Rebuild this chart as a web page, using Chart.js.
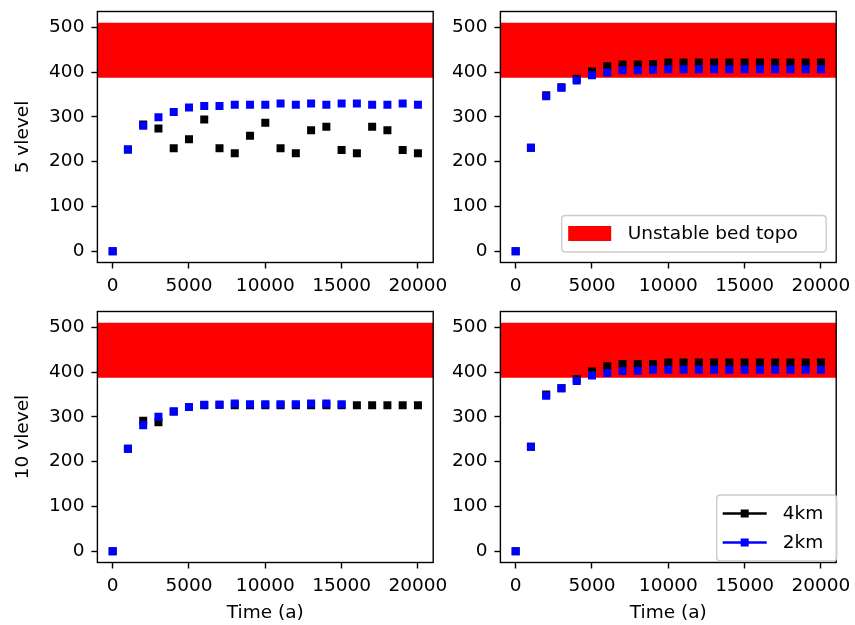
<!DOCTYPE html>
<html>
<head>
<meta charset="utf-8">
<script src="https://cdn.jsdelivr.net/npm/chart.js@4/dist/chart.umd.min.js"></script>
<style>
  html, body { margin: 0; padding: 0; background: #fff; }
  #wrap { position: relative; width: 855px; height: 625px; overflow: hidden; }
  #wrap canvas { position: absolute; left: 0; top: 0; }
</style>
</head>
<body>
<div id="wrap">
  <canvas id="p0" width="855" height="625"></canvas>
  <canvas id="p1" width="855" height="625"></canvas>
  <canvas id="p2" width="855" height="625"></canvas>
  <canvas id="p3" width="855" height="625"></canvas>
</div>
<script>
// Model time (years) at which the grounding-line depth is sampled
const years = [0, 1000, 2000, 3000, 4000, 5000, 6000, 7000, 8000, 9000, 10000,
               11000, 12000, 13000, 14000, 15000, 16000, 17000, 18000, 19000, 20000];
const xTicks = [0, 5000, 10000, 15000, 20000];
const yTicks = [0, 100, 200, 300, 400, 500];
const xRange = [-1000, 21000];
const yRange = [-25, 535];

// Depth range of the unstable bed topography
const unstableBand = [387, 510];

// 5 vertical levels, left experiment
const lv5Left4km = [0, 227, 283, 274, 230, 250, 294, 230, 219, 258, 287,
                    230, 219, 270, 278, 226, 219, 278, 270, 226, 219];
const lv5Left2km = [0, 227, 280, 299, 311, 321, 324, 324, 327, 327, 327,
                    330, 327, 330, 327, 330, 330, 327, 327, 330, 327];
// 5 vertical levels, right experiment
const lv5Right4km = [0, 231, 348, 366, 385, 401, 413, 417, 417, 418, 421,
                     421, 421, 421, 421, 421, 421, 421, 421, 421, 421];
const lv5Right2km = [0, 231, 346, 365, 381, 393, 399, 404, 404, 405, 406,
                     406, 406, 406, 406, 406, 406, 406, 406, 406, 406];
// 10 vertical levels, left experiment (2 km run ends at 15000 a)
const lv10Left4km = [0, 229, 291, 288, 312, 322, 326, 327, 326, 326, 326,
                     326, 326, 326, 326, 326, 326, 326, 326, 326, 326];
const lv10Left2km = [0, 229, 281, 300, 312, 322, 327, 327, 330, 328, 328,
                     328, 328, 330, 330, 328];
// 10 vertical levels, right experiment
const lv10Right4km = [0, 233, 350, 364, 384, 401, 413, 418, 418, 418, 421,
                      421, 421, 421, 421, 421, 421, 421, 421, 421, 421];
const lv10Right2km = [0, 233, 347, 364, 380, 392, 398, 402, 403, 405, 405,
                      405, 405, 405, 405, 405, 405, 405, 405, 405, 405];

const FONT = '"DejaVu Sans", "Liberation Sans", sans-serif';
const FS = 18.5;
const W = 855, H = 625;

const toPoints = vals => vals.map((v, i) => ({ x: years[i], y: v }));

// Frame around the plotting area plus in-axes legends
const framePlugin = {
  id: 'frame',
  afterDraw(chart) {
    const { ctx, chartArea: a } = chart;
    ctx.save();
    ctx.strokeStyle = '#000';
    ctx.lineWidth = 1.4;
    ctx.strokeRect(a.left, a.top, a.right - a.left, a.bottom - a.top);

    const lg = chart.options.plugins.frame.legend;
    if (lg) drawLegend(chart, lg);
    ctx.restore();
  }
};

function roundRect(ctx, x, y, w, h, r) {
  ctx.beginPath();
  ctx.moveTo(x + r, y);
  ctx.lineTo(x + w - r, y);
  ctx.quadraticCurveTo(x + w, y, x + w, y + r);
  ctx.lineTo(x + w, y + h - r);
  ctx.quadraticCurveTo(x + w, y + h, x + w - r, y + h);
  ctx.lineTo(x + r, y + h);
  ctx.quadraticCurveTo(x, y + h, x, y + h - r);
  ctx.lineTo(x, y + r);
  ctx.quadraticCurveTo(x, y, x + r, y);
  ctx.closePath();
}

function drawLegend(chart, lg) {
  const ctx = chart.ctx;
  const a = chart.chartArea;
  const bx = a.right + lg.dx, by = a.bottom + lg.dy;
  ctx.save();
  roundRect(ctx, bx, by, lg.w, lg.h, 3.7);
  ctx.fillStyle = 'rgba(255,255,255,0.8)';
  ctx.fill();
  ctx.strokeStyle = '#cccccc';
  ctx.lineWidth = 1.4;
  ctx.stroke();
  ctx.font = FS + 'px ' + FONT;
  ctx.textBaseline = 'middle';
  ctx.fillStyle = '#000';
  lg.items.forEach((it, k) => {
    const ds = chart.data.datasets[it.dataset];
    const cy = by + lg.firstRow + k * lg.rowStep;
    const hx = bx + lg.handleX;
    if (it.kind === 'patch') {
      ctx.fillStyle = ds.backgroundColor;
      ctx.fillRect(hx, cy - 7.5, lg.handleW, 15);
    } else {
      ctx.strokeStyle = ds.pointBackgroundColor;
      ctx.lineWidth = 2.7;
      ctx.beginPath();
      ctx.moveTo(hx, cy);
      ctx.lineTo(hx + lg.handleW, cy);
      ctx.stroke();
      ctx.fillStyle = ds.pointBackgroundColor;
      ctx.fillRect(hx + lg.handleW / 2 - 4, cy - 4, 8, 8);
    }
    ctx.fillStyle = '#000';
    ctx.fillText(ds.label, bx + lg.textX, cy + 1);
  });
  ctx.restore();
}

function makePanel(id, area, s4, s2, yTitle, xTitle, legend) {
  const yAxisW = area.left - area.padLeft;
  const xAxisH = xTitle ? (H - area.bottom) : 40;
  const bandColor = '#ff0000';
  const datasets = [
    {
      label: 'Unstable bed topo',
      data: [{ x: xRange[0], y: unstableBand[1] }, { x: xRange[1], y: unstableBand[1] }],
      showLine: true,
      borderWidth: 0,
      borderColor: 'rgba(0,0,0,0)',
      backgroundColor: bandColor,
      pointRadius: 0,
      fill: { target: { value: unstableBand[0] } },
      order: 10
    },
    {
      label: '4km',
      data: toPoints(s4),
      showLine: false,
      pointStyle: 'rect',
      pointRadius: 5.66,
      pointBorderWidth: 0,
      pointBackgroundColor: '#000000',
      pointBorderColor: '#000000',
      order: 2
    },
    {
      label: '2km',
      data: toPoints(s2),
      showLine: false,
      pointStyle: 'rect',
      pointRadius: 5.66,
      pointBorderWidth: 0,
      pointBackgroundColor: '#0000ff',
      pointBorderColor: '#0000ff',
      order: 1
    }
  ];

  const tickStyle = { color: '#000', font: { family: FONT, size: FS }, callback: v => String(v) };
  const gridStyle = {
    display: true, drawOnChartArea: false, drawTicks: true,
    tickLength: 6, tickWidth: 1.4, tickColor: '#000'
  };

  new Chart(document.getElementById(id), {
    type: 'line',
    data: { datasets },
    options: {
      responsive: false,
      animation: false,
      events: [],
      layout: {
        padding: {
          left: area.padLeft,
          top: area.top,
          right: W - area.right,
          bottom: H - area.bottom - xAxisH
        }
      },
      scales: {
        x: {
          type: 'linear',
          min: xRange[0], max: xRange[1],
          border: { display: false },
          grid: gridStyle,
          ticks: Object.assign({ padding: 7, maxRotation: 0 }, tickStyle),
          afterBuildTicks: s => { s.ticks = xTicks.map(v => ({ value: v })); },
          afterFit: s => { s.height = xAxisH; s.paddingLeft = 0; s.paddingRight = 0; },
          title: {
            display: !!xTitle,
            text: xTitle || '',
            color: '#000',
            font: { family: FONT, size: FS },
            padding: { top: 0, bottom: 1 }
          }
        },
        y: {
          type: 'linear',
          min: yRange[0], max: yRange[1],
          border: { display: false },
          grid: gridStyle,
          ticks: Object.assign({ padding: 7 }, tickStyle),
          afterBuildTicks: s => { s.ticks = yTicks.map(v => ({ value: v })); },
          afterFit: s => { s.width = yAxisW; s.paddingTop = 0; s.paddingBottom = 0; },
          title: {
            display: !!yTitle,
            text: yTitle || '',
            color: '#000',
            font: { family: FONT, size: FS },
            padding: { top: 12, bottom: 0 }
          }
        }
      },
      plugins: {
        legend: { display: false },
        tooltip: { enabled: false },
        frame: { legend }
      }
    },
    plugins: [framePlugin]
  });
}

const bandLegend = {
  dx: -274.5, dy: -47, w: 264.5, h: 36.5,
  handleX: 6.5, handleW: 43, textX: 66, firstRow: 18, rowStep: 0,
  items: [{ dataset: 0, kind: 'patch' }]
};
const runLegend = {
  dx: -119.5, dy: -67.5, w: 120, h: 66,
  handleX: 6, handleW: 44, textX: 66, firstRow: 18.5, rowStep: 29,
  items: [{ dataset: 1, kind: 'line' }, { dataset: 2, kind: 'line' }]
};

makePanel('p0', { padLeft: 0, left: 97.4, right: 433.2, top: 11.5, bottom: 262.5 },
  lv5Left4km, lv5Left2km, '5 vlevel', null, null);
makePanel('p1', { padLeft: 445, left: 500.4, right: 836.2, top: 11.5, bottom: 262.5 },
  lv5Right4km, lv5Right2km, null, null, bandLegend);
makePanel('p2', { padLeft: 0, left: 97.4, right: 433.2, top: 311.5, bottom: 562.5 },
  lv10Left4km, lv10Left2km, '10 vlevel', 'Time (a)', null);
makePanel('p3', { padLeft: 445, left: 500.4, right: 836.2, top: 311.5, bottom: 562.5 },
  lv10Right4km, lv10Right2km, null, 'Time (a)', runLegend);
</script>
</body>
</html>
